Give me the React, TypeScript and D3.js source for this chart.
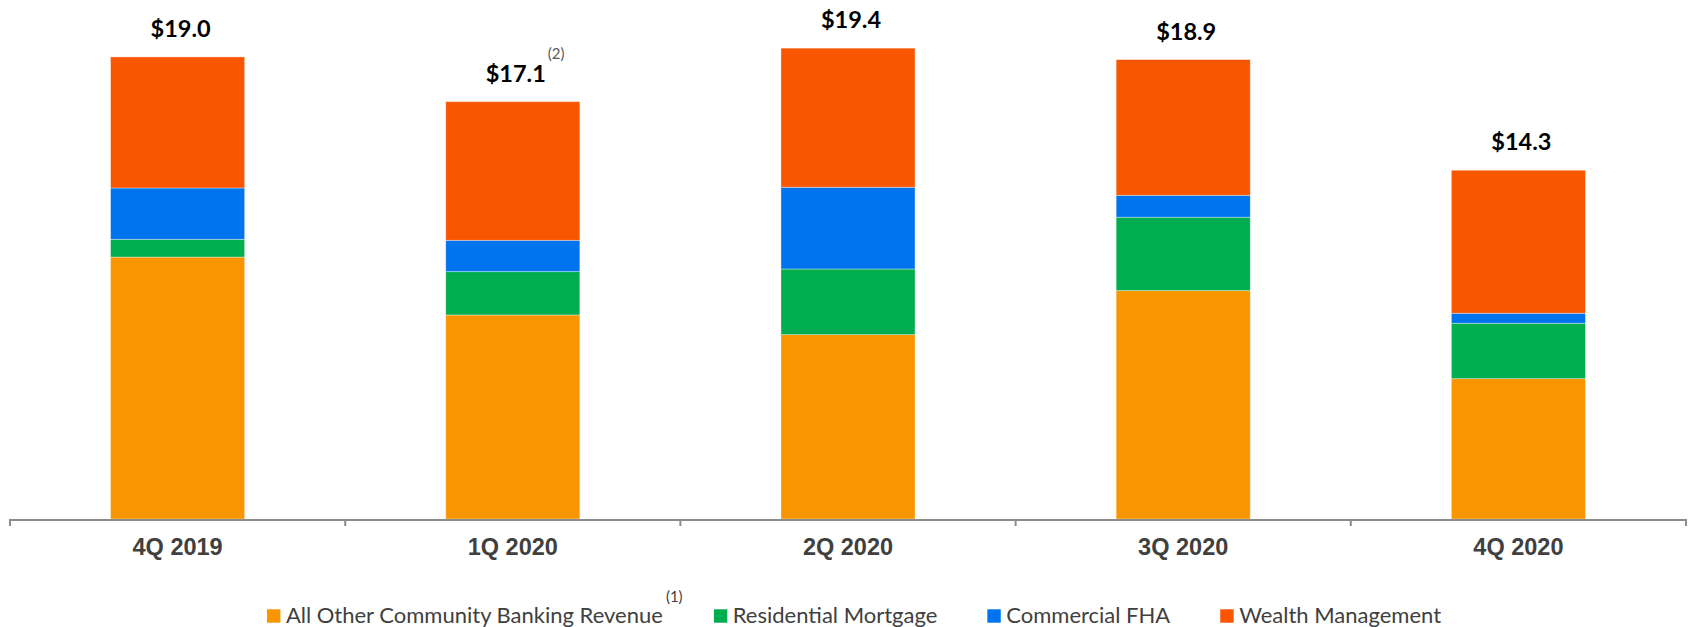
import React from "react";
import * as d3 from "d3";

const categories = ["4Q 2019", "1Q 2020", "2Q 2020", "3Q 2020", "4Q 2020"];
const seriesNames = [
  "All Other Community Banking Revenue",
  "Residential Mortgage",
  "Commercial FHA",
  "Wealth Management",
];
const allOther = [10.77, 8.39, 7.58, 9.39, 5.77];
const residentialMortgage = [0.73, 1.78, 2.7, 3.02, 2.28];
const commercialFHA = [2.11, 1.29, 3.36, 0.9, 0.41];
const wealthManagement = [5.39, 5.7, 5.72, 5.58, 5.88];
const totalLabels = ["$19.0", "$17.1", "$19.4", "$18.9", "$14.3"];
const totalFootnotes = ["", "(2)", "", "", ""];
const legendFootnotes = ["(1)", "", "", ""];
const colors = ["#F89500", "#00AE4F", "#0073EE", "#F85600"];

const W = 1688;
const H = 627;

function measure(text: string, font: string): number {
  const c = document.createElement("canvas");
  const ctx = c.getContext("2d");
  if (!ctx) return text.length * 10;
  ctx.font = font;
  return ctx.measureText(text).width;
}

export default function App() {
  const rows = categories.map((c, i) => ({
    cat: c,
    [seriesNames[0]]: allOther[i],
    [seriesNames[1]]: residentialMortgage[i],
    [seriesNames[2]]: commercialFHA[i],
    [seriesNames[3]]: wealthManagement[i],
  }));
  const stack = d3.stack<any>().keys(seriesNames);
  const layers = stack(rows as any);

  const axisLeft = 10;
  const axisRight = 1686;
  const baseline = 519;

  const x = d3
    .scaleBand<string>()
    .domain(categories)
    .range([axisLeft, axisRight])
    .paddingInner(0.6)
    .paddingOuter(0.3);
  const xOuter = d3.scaleBand<string>().domain(categories).range([axisLeft, axisRight]).padding(0);
  const y = d3.scaleLinear().domain([0, 21.34]).range([baseline, 0]);

  const tickXs = [...categories.map((c) => xOuter(c) as number), axisRight];

  const legendSize = 22;
  const legendFont = `${legendSize}px Lato`;
  const labelFontFamily = "Lato";
  const sq = 13.4;
  let lx = 267;
  const legendItems = seriesNames.map((name, i) => {
    const tw = measure(name, legendFont);
    const item = { name, x: lx, tw, color: colors[i], foot: legendFootnotes[i] };
    lx += sq + 5.5 + tw + 50;
    return item;
  });

  return (
    <svg
      width={W}
      height={H}
      style={{ position: "absolute", left: 0, top: 0, display: "block", background: "#fff" }}
    >
      {layers.map((layer, li) => (
        <g key={layer.key} fill={colors[li]}>
          {layer.map((d, i) => (
            <rect
              key={i}
              x={x(categories[i])}
              y={y(d[1])}
              width={x.bandwidth()}
              height={y(d[0]) - y(d[1])}
              stroke="rgba(255,255,255,0.45)"
              strokeWidth={0.8}
            />
          ))}
        </g>
      ))}

      {categories.map((c, i) => {
        const top = layers[layers.length - 1][i][1];
        const cx = (x(c) as number) + x.bandwidth() / 2 + 3;
        const ty = y(top) - 20;
        const w = measure(totalLabels[i], `bold 23.5px ${labelFontFamily}`);
        return (
          <g key={c}>
            <text
              x={cx}
              y={ty}
              textAnchor="middle"
              fontFamily={labelFontFamily}
              fontWeight="bold"
              fontSize={23.5}
              fill="#000"
            >
              {totalLabels[i]}
            </text>
            {totalFootnotes[i] && (
              <text
                x={cx + w / 2 + 2}
                y={ty - 23}
                fontFamily={labelFontFamily}
                fontSize={15}
                fill="#595959"
              >
                {totalFootnotes[i]}
              </text>
            )}
          </g>
        );
      })}

      <g stroke="#8c8c8c" strokeWidth={2} fill="none">
        <line x1={axisLeft} x2={axisRight} y1={baseline + 1} y2={baseline + 1} />
        {tickXs.map((tx, i) => (
          <line key={i} x1={tx} x2={tx} y1={baseline} y2={baseline + 7} />
        ))}
      </g>

      {categories.map((c) => (
        <text
          key={c}
          x={(xOuter(c) as number) + xOuter.bandwidth() / 2}
          y={555}
          textAnchor="middle"
          fontFamily="Liberation Sans, Arial, sans-serif"
          fontWeight="bold"
          fontSize={23.5}
          fill="#404040"
        >
          {c}
        </text>
      ))}

      {legendItems.map((it) => (
        <g key={it.name}>
          <rect x={it.x} y={609.3} width={sq} height={sq} fill={it.color} />
          <text
            x={it.x + sq + 5.5}
            y={623}
            fontFamily={labelFontFamily}
            fontSize={legendSize}
            fill="#404040"
          >
            {it.name}
          </text>
          {it.foot && (
            <text
              x={it.x + sq + 5.5 + it.tw + 2}
              y={602}
              fontFamily={labelFontFamily}
              fontSize={15}
              fill="#404040"
            >
              {it.foot}
            </text>
          )}
        </g>
      ))}
    </svg>
  );
}
